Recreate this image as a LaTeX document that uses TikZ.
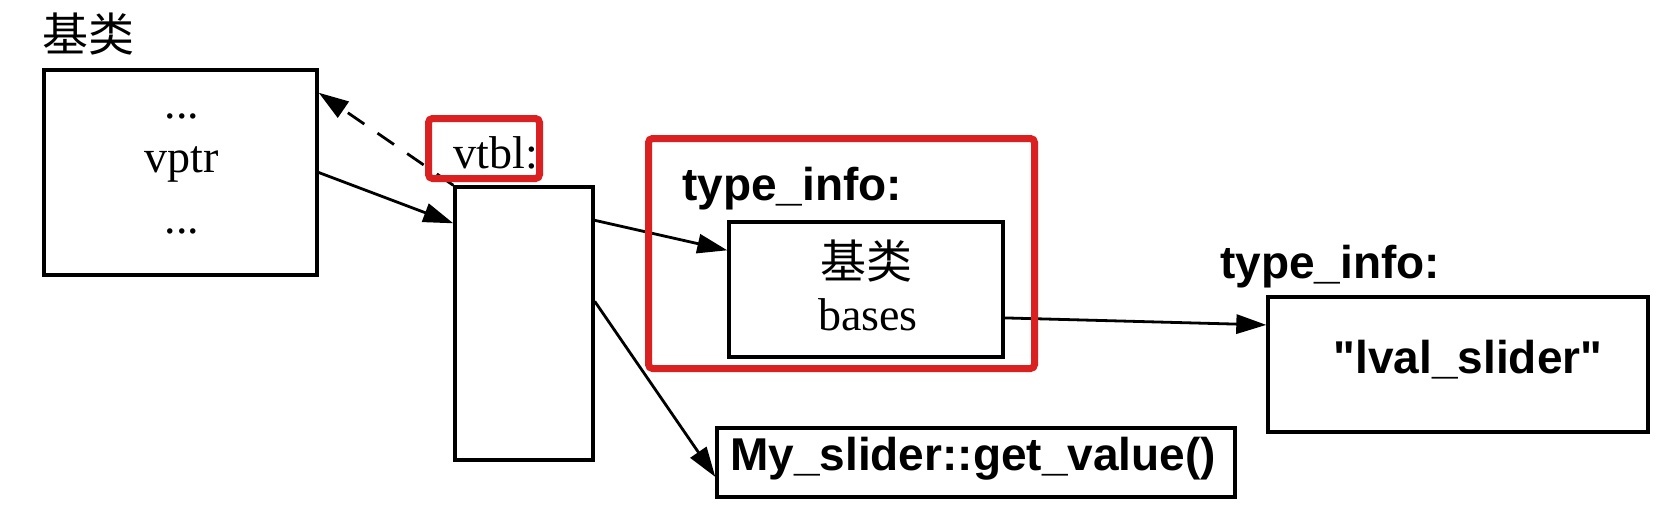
\documentclass[tikz,border=0pt]{standalone}
\usepackage{fontspec}
\setmainfont{Liberation Serif}
\newfontfamily\sansfont{Liberation Sans}
\newfontfamily\cjk{Noto Sans CJK SC}
\usepackage{xcolor}
\usetikzlibrary{arrows.meta,positioning}
\definecolor{markred}{RGB}{218,32,32}
\newcommand{\sz}{\fontsize{11.5}{13}\selectfont}

\begin{document}
\begin{tikzpicture}[x=0.25pt, y=-0.25pt, >={Triangle[length=7.5pt,width=4.8pt]},
    every node/.style={font=\sz},
    box/.style={rectangle, draw, line width=0.85pt, inner sep=0pt},
    markbox/.style={rectangle, draw=markred, line width=1.75pt, rounded corners=1pt, inner sep=0pt},
    txt/.style={anchor=base, inner sep=0pt},
    lbl/.style={anchor=base, inner sep=0pt, font=\sz\sansfont\bfseries},
    link/.style={->, line width=0.7pt}]

    \useasboundingbox (0,0) rectangle (1666,526);

    % Base class object
    \node[inner sep=0pt] (basetitle) at (88,34) {\cjk 基类};
    \node[box, minimum width=68.25pt, minimum height=51.25pt] (base) at (180.5,172.5) {};
    \node[txt] (dotsa) at (182,118) {...};
    \node[txt] (vptr) at (182,172) {vptr};
    \node[txt] (dotsb) at (182,233) {...};

    % vtbl
    \node[box, minimum width=34.5pt, minimum height=68.25pt] (vtbl) at (524,323.5) {};
    \node[txt] (vtbllbl) at (496,168) {vtbl:};

    % type_info of the base class
    \node[lbl] (tinfolbl) at (792,200) {type\_info:};
    \node[box, minimum width=68.5pt, minimum height=33.75pt] (tinfo) at (866,289.5) {};
    \node[inner sep=0pt] (tinfoname) at (866,261) {\cjk 基类};
    \node[txt] (bases) at (868,330) {bases};

    % type_info of lval_slider
    \node[lbl] (lvallbl) at (1330,278) {type\_info:};
    \node[box, minimum width=95pt, minimum height=33.75pt] (lval) at (1458,364.5) {};
    \node[lbl] (lvalname) at (1468,373) {"lval\_slider"};

    % virtual function
    \node[box, minimum width=129.5pt, minimum height=17.25pt] (getv) at (976,462.5) {};
    \node[lbl] (getvname) at (973,470) {My\_slider::get\_value()};

    % Arrows
    \draw[link] (base.east) -- ([yshift=-9.5pt]vtbl.north west);
    \draw[link, dash pattern=on 5pt off 4pt] (vtbl.north west) -- (base.30);
    \draw[link] ([yshift=-8.75pt]vtbl.north east) -- ([yshift=-7.5pt]tinfo.north west);
    \draw[link] ([yshift=-29pt]vtbl.north east) -- ([yshift=-3.6pt]getv.west);
    \draw[link] ([yshift=-7.1pt]tinfo.east) -- ([yshift=9.9pt]lval.west);

    % Red marks
    \node[markbox, minimum width=27.75pt, minimum height=15pt] (vtblmark) at (484,148.5) {};
    \node[markbox, minimum width=96.5pt, minimum height=57.5pt] (tinfomark) at (841.5,253.5) {};

\end{tikzpicture}
\end{document}
